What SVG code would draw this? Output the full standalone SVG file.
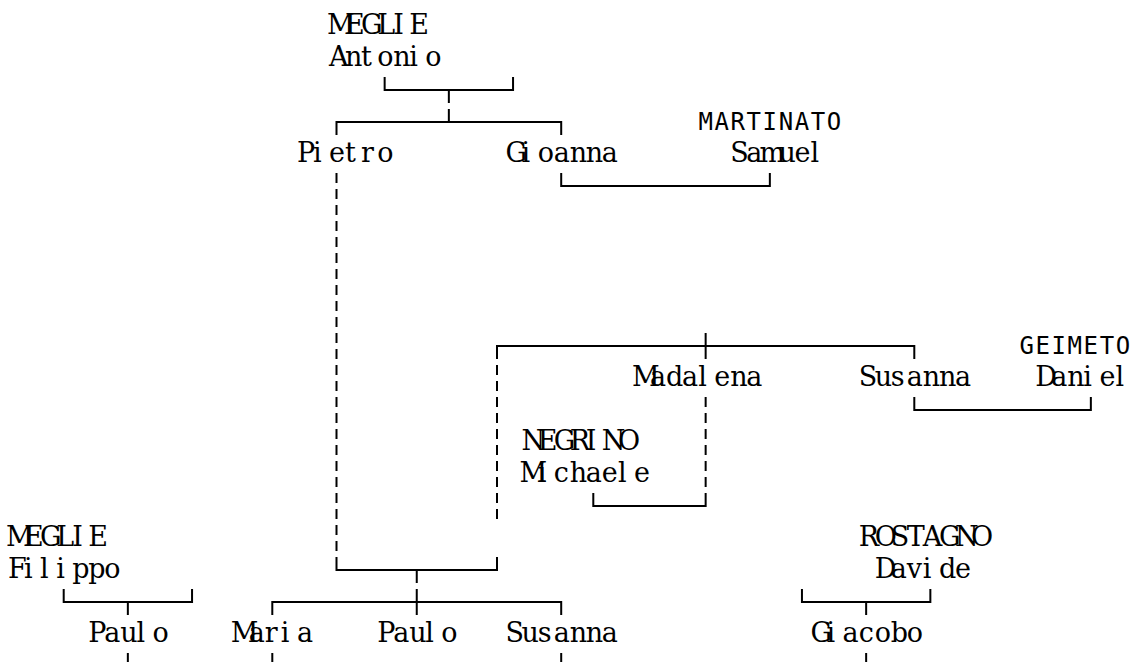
<svg xmlns="http://www.w3.org/2000/svg" width="1133" height="662" viewBox="0 0 1133 662">
<style>
.t{font-family:"DejaVu Serif","Liberation Serif",serif;font-size:27px;fill:#000}
.s{font-family:"DejaVu Sans Mono","Liberation Mono",monospace;font-size:24px;fill:#000;text-anchor:middle}
.ln{fill:none;stroke:#000;stroke-width:2}
.ds{fill:none;stroke:#000;stroke-width:2;stroke-dasharray:10 6}
</style>
<rect width="1133" height="662" fill="#fff"/>
<g id="connectors">
<path class="ln" d="M384.65 77V90H513.05V77M448.85 90V103"/>
<path class="ln" d="M336.5 135V122H561.2V135M448.85 109V122"/>
<path class="ln" d="M561.2 173V186H769.85V173"/>
<path class="ln" d="M497 359V346H914.3V359M705.65 333V359"/>
<path class="ln" d="M914.3 397V410H1090.85V397"/>
<path class="ln" d="M593.3 493V506H705.65V493"/>
<path class="ln" d="M336.5 557V570H497V557M416.75 570V583"/>
<path class="ln" d="M272.3 615V602H561.2V615M416.75 589V615"/>
<path class="ln" d="M63.7 589V602H192.05V589M127.85 602V615"/>
<path class="ln" d="M801.95 589V602H930.35V589M866.15 602V615"/>
<path class="ln" d="M127.85 653V662M272.3 653V662M561.2 653V662M866.15 653V662"/>
<path class="ds" d="M336.5 173V551"/>
<path class="ds" d="M497 365V519"/>
<path class="ds" d="M705.65 397V487"/>
</g>
<g id="meglie-antonio">
<text class="t" x="327 345.05 361.1 377.15 393.2 409.25" y="34">MEGLIE</text>
<text class="t" x="329 345.05 361.1 377.15 393.2 409.25 425.3" y="66">Antonio</text>
</g>
<g id="pietro"><text class="t" x="296.9 312.95 329 345.05 361.1 377.15" y="162">Pietro</text></g>
<g id="gioanna"><text class="t" x="505.55 521.6 537.65 553.7 569.75 585.8 601.85" y="162">Gioanna</text></g>
<g id="martinato-samuel">
<text class="s" x="705.65 721.7 737.75 753.8 769.85 785.9 801.95 818 834.05" y="130">MARTINATO</text>
<text class="t" x="730.25 746.3 759.5 778.4 794.45 810.5" y="162">Samuel</text>
</g>
<g id="madalena"><text class="t" x="632 650 666.05 682.1 698.15 714.2 730.25 746.3" y="386">Madalena</text></g>
<g id="susanna-1"><text class="t" x="858.65 874.7 890.75 906.8 922.85 938.9 954.95" y="386">Susanna</text></g>
<g id="geimeto-daniel">
<text class="s" x="1026.65 1042.7 1058.75 1074.8 1090.85 1106.9 1122.95" y="354">GEIMETO</text>
<text class="t" x="1035.2 1051.25 1067.3 1083.35 1099.4 1115.45" y="386">Daniel</text>
</g>
<g id="negrino-michaele">
<text class="t" x="521.6 537.65 553.7 569.75 585.8 601.85 617.9" y="450">NEGRINO</text>
<text class="t" x="519.6 537.65 553.7 569.75 585.8 601.85 617.9 633.95" y="482">Michaele</text>
</g>
<g id="meglie-filippo">
<text class="t" x="6 24.05 40.1 56.15 72.2 88.25" y="546">MEGLIE</text>
<text class="t" x="8 24.05 40.1 56.15 72.2 88.25 104.3" y="578">Filippo</text>
</g>
<g id="rostagno-davide">
<text class="t" x="858.65 874.7 890.75 906.8 922.85 938.9 954.95 971" y="546">ROSTAGNO</text>
<text class="t" x="874.7 890.75 906.8 922.85 938.9 954.95" y="578">Davide</text>
</g>
<g id="paulo-1"><text class="t" x="88.25 104.3 120.35 136.4 152.45" y="642">Paulo</text></g>
<g id="maria"><text class="t" x="230.7 248.75 264.8 280.85 296.9" y="642">Maria</text></g>
<g id="paulo-2"><text class="t" x="377.15 393.2 409.25 425.3 441.35" y="642">Paulo</text></g>
<g id="susanna-2"><text class="t" x="505.55 521.6 537.65 553.7 569.75 585.8 601.85" y="642">Susanna</text></g>
<g id="giacobo"><text class="t" x="810.5 826.55 842.6 858.65 874.7 890.75 906.8" y="642">Giacobo</text></g>
</svg>
